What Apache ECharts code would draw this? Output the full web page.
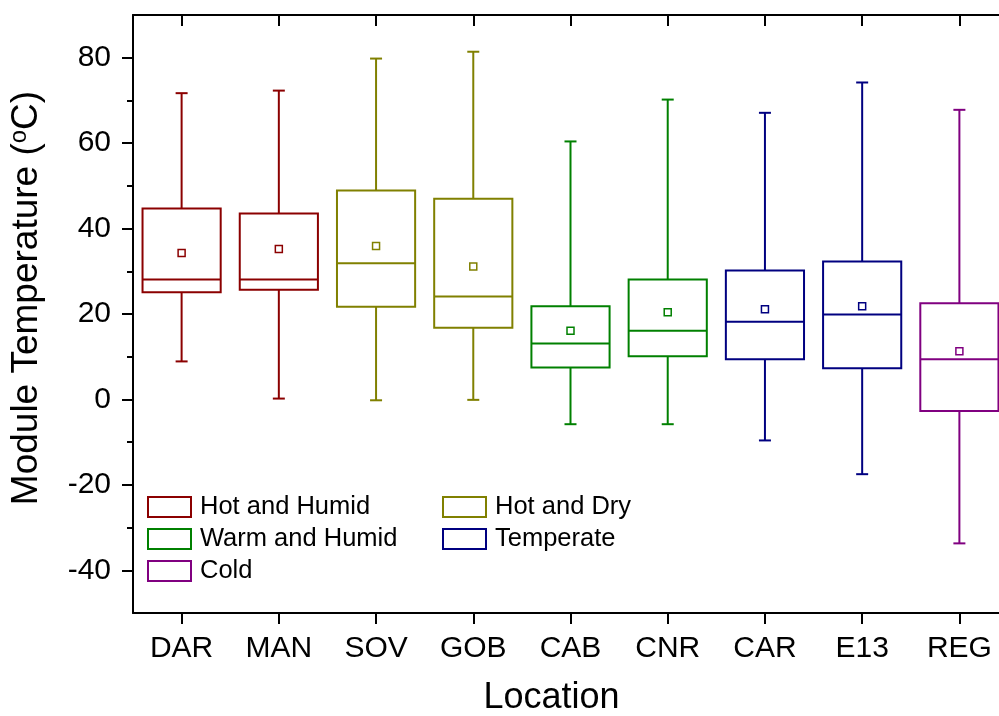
<!DOCTYPE html>
<html>
<head>
<meta charset="utf-8">
<script src="https://cdn.jsdelivr.net/npm/echarts@6/dist/echarts.min.js"></script>
<style>
  html, body { margin: 0; padding: 0; background: #fff; }
  #chart { width: 999px; height: 716px; }
</style>
</head>
<body>
<div id="chart"></div>
<script>
// Module temperature distribution per site (°C)
const categories = ['DAR', 'MAN', 'SOV', 'GOB', 'CAB', 'CNR', 'CAR', 'E13', 'REG'];
const siteZone = ['Hot and Humid', 'Hot and Humid', 'Hot and Dry', 'Hot and Dry',
  'Warm and Humid', 'Warm and Humid', 'Temperate', 'Temperate', 'Cold'];
const whiskerLow = [8.9, 0.2, -0.2, -0.1, -5.8, -5.8, -9.6, -17.5, -33.7];
const quartile1 = [25.1, 25.7, 21.7, 16.8, 7.5, 10.1, 9.4, 7.3, -2.7];
const medians = [28.1, 28.1, 31.9, 24.1, 13.1, 16.1, 18.2, 19.9, 9.4];
const quartile3 = [44.7, 43.5, 48.9, 47.0, 21.8, 28.1, 30.2, 32.3, 22.5];
const whiskerHigh = [71.7, 72.3, 79.8, 81.4, 60.4, 70.2, 67.1, 74.2, 67.8];
const means = [34.3, 35.2, 35.9, 31.1, 16.1, 20.4, 21.1, 21.8, 11.3];

const zones = ['Hot and Humid', 'Hot and Dry', 'Warm and Humid', 'Temperate', 'Cold'];
const zoneColors = ['#8B0000', '#808000', '#008000', '#000080', '#800080'];

const yMajorTicks = [-40, -20, 0, 20, 40, 60, 80];
const yMinorTicks = [-30, -10, 10, 30, 50, 70];

const FONT = '"Liberation Sans", Arial, Helvetica, sans-serif';

function renderBox(params, api) {
  const i = api.value(0);
  const lo = api.coord([i, api.value(1)]);
  const b1 = api.coord([i, api.value(2)]);
  const md = api.coord([i, api.value(3)]);
  const b3 = api.coord([i, api.value(4)]);
  const hi = api.coord([i, api.value(5)]);
  const mn = api.coord([i, api.value(6)]);
  const band = api.size([1, 0])[0];
  const hw = band * 0.402;
  const cap = 6;
  const m = 3.5;
  const cx = lo[0];
  const color = api.visual('color');
  const line = { stroke: color, lineWidth: 2 };
  return {
    type: 'group',
    children: [
      { type: 'line', shape: { x1: cx, y1: hi[1], x2: cx, y2: b3[1] }, style: line },
      { type: 'line', shape: { x1: cx, y1: b1[1], x2: cx, y2: lo[1] }, style: line },
      { type: 'line', shape: { x1: cx - cap, y1: hi[1], x2: cx + cap, y2: hi[1] }, style: line },
      { type: 'line', shape: { x1: cx - cap, y1: lo[1], x2: cx + cap, y2: lo[1] }, style: line },
      { type: 'rect', shape: { x: cx - hw, y: b3[1], width: hw * 2, height: b1[1] - b3[1] },
        style: { fill: 'rgba(255,255,255,0)', stroke: color, lineWidth: 2 } },
      { type: 'line', shape: { x1: cx - hw, y1: md[1], x2: cx + hw, y2: md[1] }, style: line },
      { type: 'rect', shape: { x: cx - m, y: mn[1] - m, width: m * 2, height: m * 2 },
        style: { fill: '#fff', stroke: color, lineWidth: 1.5 } }
    ]
  };
}

const series = zones.map((zone, z) => ({
  name: zone,
  type: 'custom',
  renderItem: renderBox,
  itemStyle: { color: zoneColors[z] },
  encode: { x: 0, y: [1, 2, 3, 4, 5, 6] },
  data: categories
    .map((c, i) => [i, whiskerLow[i], quartile1[i], medians[i], quartile3[i], whiskerHigh[i], means[i]])
    .filter((d) => siteZone[d[0]] === zone),
  silent: true,
  z: 5
}));

function legendItems(names) {
  return names.map((n) => {
    const c = zoneColors[zones.indexOf(n)];
    return { name: n, icon: 'rect', itemStyle: { color: '#fff', borderColor: c, borderWidth: 2 } };
  });
}

const legendBase = {
  orient: 'vertical',
  top: 494,
  padding: 0,
  itemWidth: 43,
  itemHeight: 20,
  itemGap: 6,
  selectedMode: false,
  textStyle: { fontFamily: FONT, fontSize: 25.5, color: '#000', padding: [0, 0, 0, 4] }
};

const axisLine = { show: true, onZero: false, lineStyle: { color: '#000', width: 2 } };

const option = {
  backgroundColor: '#fff',
  animation: false,
  textStyle: { fontFamily: FONT },
  grid: { left: 133, right: -9, top: 15, bottom: 103, containLabel: false, outerBoundsMode: 'none' },
  legend: [
    Object.assign({}, legendBase, { left: 147, data: legendItems(['Hot and Humid', 'Warm and Humid', 'Cold']) }),
    Object.assign({}, legendBase, { left: 442, data: legendItems(['Hot and Dry', 'Temperate']) })
  ],
  xAxis: [
    {
      type: 'category',
      data: categories,
      position: 'bottom',
      axisLine: axisLine,
      axisTick: { show: true, alignWithLabel: true, length: 11, lineStyle: { color: '#000', width: 2 } },
      axisLabel: { color: '#000', fontSize: 30, fontFamily: FONT, margin: 21 },
      splitLine: { show: false },
      name: 'Location',
      nameLocation: 'middle',
      nameGap: 67,
      nameTextStyle: { color: '#000', fontSize: 36, fontFamily: FONT, padding: [0, 38, 0, 0] }
    },
    {
      type: 'category',
      data: categories,
      position: 'top',
      axisLine: axisLine,
      axisTick: { show: true, inside: true, alignWithLabel: true, length: 11, lineStyle: { color: '#000', width: 2 } },
      axisLabel: { show: false },
      splitLine: { show: false }
    }
  ],
  yAxis: [
    {
      type: 'value',
      min: -50,
      max: 90,
      position: 'left',
      axisLine: axisLine,
      axisTick: { show: true, length: 11, customValues: yMajorTicks, lineStyle: { color: '#000', width: 2 } },
      axisLabel: { color: '#000', fontSize: 30, fontFamily: FONT, margin: 22, customValues: yMajorTicks },
      splitLine: { show: false },
      name: 'Module Temperature ({sup|o}C)',
      nameLocation: 'middle',
      nameGap: 86,
      nameTextStyle: {
        color: '#000', fontSize: 37, fontFamily: FONT, padding: [0, 0, 0, 32],
        rich: { sup: { fontSize: 24, fontFamily: FONT, color: '#000', padding: [0, 0, 16, 0] } }
      }
    },
    {
      type: 'value',
      min: -50,
      max: 90,
      position: 'left',
      axisLine: { show: false },
      axisTick: { show: true, length: 6, customValues: yMinorTicks, lineStyle: { color: '#000', width: 2 } },
      axisLabel: { show: false },
      splitLine: { show: false }
    }
  ],
  series: series
};

const chart = echarts.init(document.getElementById('chart'), null, { renderer: 'canvas' });
chart.setOption(option);
</script>
</body>
</html>
